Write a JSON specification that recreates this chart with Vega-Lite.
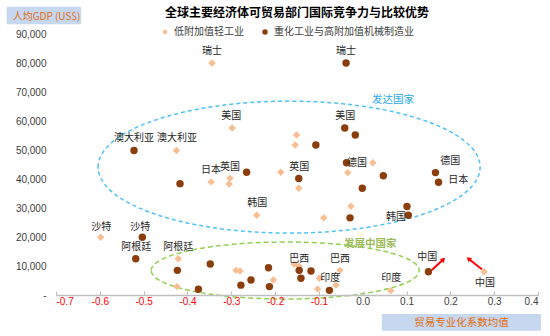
{
  "$schema": "https://vega.github.io/schema/vega-lite/v6.json",
  "width": 482,
  "height": 261,
  "autosize": "none",
  "padding": {"left": 56, "top": 34, "right": 12, "bottom": 41},
  "background": "white",
  "title": {"text": "全球主要经济体可贸易部门国际竞争力与比较优势", "font": "Noto Sans CJK SC", "fontSize": 12, "fontWeight": "bold", "color": "#000000", "anchor": "middle", "frame": "group", "offset": -13},
  "config": {"view": {"stroke": null}, "font": "Noto Sans CJK SC"},
  "datasets": {
    "points": [
      {"s": "低附加值轻工业", "x": -0.344, "y": 80000},
      {"s": "低附加值轻工业", "x": -0.298, "y": 57600},
      {"s": "低附加值轻工业", "x": -0.151, "y": 55200},
      {"s": "低附加值轻工业", "x": -0.154, "y": 51700},
      {"s": "低附加值轻工业", "x": -0.425, "y": 49800},
      {"s": "低附加值轻工业", "x": -0.346, "y": 39000},
      {"s": "低附加值轻工业", "x": -0.303, "y": 40300},
      {"s": "低附加值轻工业", "x": -0.305, "y": 38300},
      {"s": "低附加值轻工业", "x": -0.187, "y": 42300},
      {"s": "低附加值轻工业", "x": -0.146, "y": 36800},
      {"s": "低附加值轻工业", "x": -0.242, "y": 27500},
      {"s": "低附加值轻工业", "x": -0.089, "y": 26600},
      {"s": "低附加值轻工业", "x": -0.034, "y": 42200},
      {"s": "低附加值轻工业", "x": 0.023, "y": 45600},
      {"s": "低附加值轻工业", "x": -0.027, "y": 30600},
      {"s": "低附加值轻工业", "x": -0.598, "y": 19900},
      {"s": "低附加值轻工业", "x": -0.421, "y": 12500},
      {"s": "低附加值轻工业", "x": -0.424, "y": 2900},
      {"s": "低附加值轻工业", "x": -0.289, "y": 8500},
      {"s": "低附加值轻工业", "x": -0.280, "y": 8300},
      {"s": "低附加值轻工业", "x": -0.204, "y": 5200},
      {"s": "低附加值轻工业", "x": -0.156, "y": 10600},
      {"s": "低附加值轻工业", "x": -0.145, "y": 9800},
      {"s": "低附加值轻工业", "x": -0.099, "y": 5800},
      {"s": "低附加值轻工业", "x": -0.052, "y": 8500},
      {"s": "低附加值轻工业", "x": -0.061, "y": 3400},
      {"s": "低附加值轻工业", "x": -0.103, "y": 2100},
      {"s": "低附加值轻工业", "x": 0.064, "y": 1500},
      {"s": "低附加值轻工业", "x": 0.277, "y": 8000},
      {"s": "重化工业与高附加值机械制造业", "x": -0.038, "y": 80000},
      {"s": "重化工业与高附加值机械制造业", "x": -0.041, "y": 57600},
      {"s": "重化工业与高附加值机械制造业", "x": -0.017, "y": 55200},
      {"s": "重化工业与高附加值机械制造业", "x": -0.107, "y": 51700},
      {"s": "重化工业与高附加值机械制造业", "x": -0.522, "y": 49800},
      {"s": "重化工业与高附加值机械制造业", "x": -0.417, "y": 38400},
      {"s": "重化工业与高附加值机械制造业", "x": -0.265, "y": 42300},
      {"s": "重化工业与高附加值机械制造业", "x": -0.146, "y": 40200},
      {"s": "重化工业与高附加值机械制造业", "x": -0.037, "y": 45600},
      {"s": "重化工业与高附加值机械制造业", "x": 0.047, "y": 41100},
      {"s": "重化工业与高附加值机械制造业", "x": -0.001, "y": 36800},
      {"s": "重化工业与高附加值机械制造业", "x": -0.029, "y": 26600},
      {"s": "重化工业与高附加值机械制造业", "x": 0.166, "y": 42200},
      {"s": "重化工业与高附加值机械制造业", "x": 0.173, "y": 38900},
      {"s": "重化工业与高附加值机械制造业", "x": 0.101, "y": 30500},
      {"s": "重化工业与高附加值机械制造业", "x": 0.104, "y": 27500},
      {"s": "重化工业与高附加值机械制造业", "x": -0.503, "y": 19900},
      {"s": "重化工业与高附加值机械制造业", "x": -0.518, "y": 12500},
      {"s": "重化工业与高附加值机械制造业", "x": -0.423, "y": 8500},
      {"s": "重化工业与高附加值机械制造业", "x": -0.348, "y": 10700},
      {"s": "重化工业与高附加值机械制造业", "x": -0.375, "y": 2000},
      {"s": "重化工业与高附加值机械制造业", "x": -0.278, "y": 3400},
      {"s": "重化工业与高附加值机械制造业", "x": -0.255, "y": 5200},
      {"s": "重化工业与高附加值机械制造业", "x": -0.215, "y": 9400},
      {"s": "重化工业与高附加值机械制造业", "x": -0.213, "y": 2900},
      {"s": "重化工业与高附加值机械制造业", "x": -0.145, "y": 8500},
      {"s": "重化工业与高附加值机械制造业", "x": -0.118, "y": 8300},
      {"s": "重化工业与高附加值机械制造业", "x": -0.141, "y": 5800},
      {"s": "重化工业与高附加值机械制造业", "x": -0.076, "y": 1600},
      {"s": "重化工业与高附加值机械制造业", "x": 0.150, "y": 8000}
    ],
    "labels": [
      {"t": "瑞士", "x": -0.344, "y": 84140},
      {"t": "瑞士", "x": -0.038, "y": 84140},
      {"t": "美国", "x": -0.300, "y": 61720},
      {"t": "美国", "x": -0.040, "y": 61720},
      {"t": "澳大利亚", "x": -0.522, "y": 54140},
      {"t": "澳大利亚", "x": -0.424, "y": 54140},
      {"t": "日本", "x": -0.346, "y": 43100},
      {"t": "英国", "x": -0.303, "y": 44140},
      {"t": "英国", "x": -0.145, "y": 44140},
      {"t": "德国", "x": -0.013, "y": 45520},
      {"t": "德国", "x": 0.200, "y": 46210},
      {"t": "日本", "x": 0.218, "y": 39660},
      {"t": "韩国", "x": -0.241, "y": 31720},
      {"t": "韩国", "x": 0.076, "y": 26900},
      {"t": "沙特", "x": -0.597, "y": 23450},
      {"t": "沙特", "x": -0.508, "y": 23450},
      {"t": "阿根廷", "x": -0.517, "y": 16550},
      {"t": "阿根廷", "x": -0.421, "y": 16550},
      {"t": "巴西", "x": -0.145, "y": 12410},
      {"t": "巴西", "x": -0.052, "y": 12410},
      {"t": "印度", "x": -0.074, "y": 5860},
      {"t": "印度", "x": 0.065, "y": 5860},
      {"t": "中国", "x": 0.147, "y": 13100},
      {"t": "中国", "x": 0.279, "y": 4140}
    ],
    "groups": [
      {"t": "发达国家", "x": 0.069, "y": 67240, "g": "dev"},
      {"t": "发展中国家", "x": 0.017, "y": 17590, "g": "ing"}
    ],
    "ellipses": [
      {"g": "dev", "x": -0.168, "y": 44100},
      {"g": "ing", "x": -0.177, "y": 8450}
    ],
    "arrows": [
      {"a": 1, "x": 0.1578, "y": 8620, "x2": 0.1843, "y2": 12310},
      {"a": 2, "x": 0.2719, "y": 8860, "x2": 0.2413, "y2": 12520}
    ],
    "boxes": [
      {"x": -0.8126, "x2": -0.6429, "y": 99414, "y2": 93345},
      {"x": 0.0436, "x2": 0.4066, "y": -6552, "y2": -12310}
    ]
  },
  "encoding": {
    "x": {
      "field": "x", "type": "quantitative",
      "scale": {"domain": [-0.7, 0.4], "nice": false, "zero": false},
      "axis": {
        "values": [-0.7, -0.6, -0.5, -0.4, -0.3, -0.2, -0.1, 0, 0.1, 0.2, 0.3, 0.4],
        "labelExpr": "(datum.value < 0 ? '-' : '') + format(abs(datum.value), '.1f')",
        "labelColor": {"condition": {"test": "datum.value < 0", "value": "#FF0000"}, "value": "#404040"},
        "labelFont": "Liberation Sans", "labelFontSize": 10, "labelPadding": 5,
        "grid": false, "domainColor": "#BFBFBF", "domainWidth": 1.5,
        "tickColor": "#BFBFBF", "tickSize": -4, "tickWidth": 1,
        "title": "贸易专业化系数均值", "titleFont": "Noto Sans CJK SC", "titleFontSize": 10.5, "titleFontWeight": "normal",
        "titleColor": "#E46C0A", "titleX": 405, "titleY": 27, "titleAlign": "center", "titleBaseline": "middle",
        "zindex": 1
      }
    },
    "y": {
      "field": "y", "type": "quantitative",
      "scale": {"domain": [0, 90000], "nice": false},
      "axis": {
        "values": [0, 10000, 20000, 30000, 40000, 50000, 60000, 70000, 80000, 90000],
        "labelExpr": "datum.value == 0 ? '-' : format(datum.value, ',')",
        "labelColor": "#404040", "labelFont": "Liberation Sans", "labelFontSize": 10, "labelPadding": 10,
        "grid": false, "domain": false, "ticks": false,
        "title": "人均GDP (US$)", "titleFont": "Noto Sans CJK SC", "titleFontSize": 10, "titleFontWeight": "normal",
        "titleColor": "#E46C0A", "titleAngle": 0, "titleX": -10, "titleY": -18, "titleAlign": "center", "titleBaseline": "middle",
        "zindex": 1
      }
    }
  },
  "layer": [
    {
      "data": {"name": "boxes"},
      "mark": {"type": "rect", "color": "#C6D7F0", "clip": false},
      "encoding": {"x2": {"field": "x2"}, "y2": {"field": "y2"}}
    },
    {
      "data": {"name": "ellipses"},
      "transform": [{"filter": "datum.g == 'dev'"}],
      "mark": {"type": "point", "shape": "M -1 0 A 1 0.3455 0 1 1 1 0 A 1 0.3455 0 1 1 -1 0 Z", "size": 145924, "filled": false, "stroke": "#4FC3F7", "strokeWidth": 1.5, "strokeDash": [4, 3], "opacity": 1}
    },
    {
      "data": {"name": "ellipses"},
      "transform": [{"filter": "datum.g == 'ing'"}],
      "mark": {"type": "point", "shape": "M -1 0 A 1 0.2127 0 1 1 1 0 A 1 0.2127 0 1 1 -1 0 Z", "size": 71824, "filled": false, "stroke": "#92D050", "strokeWidth": 1.5, "strokeDash": [5, 3], "opacity": 1, "clip": false}
    },
    {
      "data": {"name": "points"},
      "mark": {"type": "point", "filled": true, "opacity": 1, "size": 55},
      "encoding": {
        "color": {"field": "s", "type": "nominal", "sort": null,
          "scale": {"domain": ["低附加值轻工业", "重化工业与高附加值机械制造业"], "range": ["#F8BD90", "#8B3E0C"]},
          "legend": {"orient": "none", "legendX": 104, "legendY": -7, "direction": "horizontal", "title": null, "symbolSize": 30, "labelFontSize": 10, "labelFont": "Noto Sans CJK SC", "columnPadding": 16, "labelColor": "#404040"}},
        "shape": {"field": "s", "type": "nominal", "sort": null,
          "scale": {"domain": ["低附加值轻工业", "重化工业与高附加值机械制造业"], "range": ["diamond", "circle"]},
          "legend": {"orient": "none", "legendX": 104, "legendY": -7, "direction": "horizontal", "title": null, "symbolSize": 30, "labelFontSize": 10, "labelFont": "Noto Sans CJK SC", "columnPadding": 16, "labelColor": "#404040"}}
      }
    },
    {
      "data": {"name": "labels"},
      "mark": {"type": "text", "font": "Noto Sans CJK SC", "fontSize": 10, "color": "#262626", "align": "center", "baseline": "middle"},
      "encoding": {"text": {"field": "t"}}
    },
    {
      "data": {"name": "groups"},
      "transform": [{"filter": "datum.g == 'dev'"}],
      "mark": {"type": "text", "font": "Noto Sans CJK SC", "fontSize": 10.5, "color": "#29A8E8", "align": "center", "baseline": "middle"},
      "encoding": {"text": {"field": "t"}}
    },
    {
      "data": {"name": "groups"},
      "transform": [{"filter": "datum.g == 'ing'"}],
      "mark": {"type": "text", "font": "Noto Sans CJK SC", "fontSize": 10.5, "fontWeight": "bold", "color": "#9BBB59", "align": "center", "baseline": "middle"},
      "encoding": {"text": {"field": "t"}}
    },
    {
      "data": {"name": "arrows"},
      "mark": {"type": "rule", "color": "#FF0000", "strokeWidth": 2},
      "encoding": {"x2": {"field": "x2"}, "y2": {"field": "y2"}}
    },
    {
      "data": {"name": "arrows"},
      "transform": [{"filter": "datum.a == 1"}],
      "mark": {"type": "point", "shape": "triangle-up", "filled": true, "color": "#FF0000", "opacity": 1, "size": 30, "angle": 47},
      "encoding": {"x": {"field": "x2", "type": "quantitative"}, "y": {"field": "y2", "type": "quantitative"}}
    },
    {
      "data": {"name": "arrows"},
      "transform": [{"filter": "datum.a == 2"}],
      "mark": {"type": "point", "shape": "triangle-up", "filled": true, "color": "#FF0000", "opacity": 1, "size": 30, "angle": 308},
      "encoding": {"x": {"field": "x2", "type": "quantitative"}, "y": {"field": "y2", "type": "quantitative"}}
    }
  ]
}
